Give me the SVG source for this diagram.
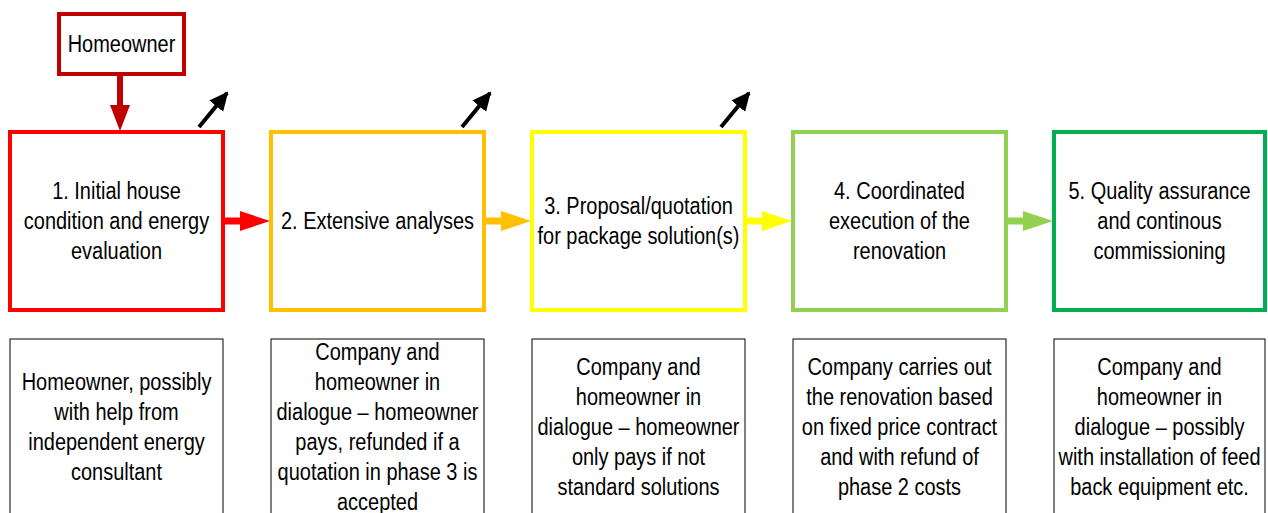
<svg xmlns="http://www.w3.org/2000/svg" width="1268" height="513" viewBox="0 0 1268 513">
<style>
text{font-family:"Liberation Sans",Arial,sans-serif;font-size:23.5px;fill:#000;text-anchor:middle}
.box{fill:#fff;stroke-width:4}
.desc{fill:#fff;stroke:#000;stroke-width:1}
</style>
<defs>
<marker id="blk" markerUnits="userSpaceOnUse" markerWidth="20" markerHeight="20" refX="17" refY="9" orient="auto" viewBox="0 0 20 18">
<path d="M0,0 L19,9 L0,18 Z" fill="#000"/>
</marker>
</defs>
<rect width="1268" height="513" fill="#fff"/>
<g id="homeowner">
<rect class="box" x="59" y="14" width="125" height="60" stroke="#C00000"/>
<g transform="translate(121.5,0) scale(0.85,1)"><text x="0" y="52">Homeowner</text></g>
</g>
<g id="step1">
<rect class="box" x="10" y="132" width="213" height="178" stroke="#FF0000"/>
<g transform="translate(116.5,0) scale(0.85,1)">
<text x="0" y="199">1. Initial house</text>
<text x="0" y="229">condition and energy</text>
<text x="0" y="259">evaluation</text>
</g>
</g>
<g id="step2">
<rect class="box" x="271" y="132" width="213" height="178" stroke="#FFC000"/>
<g transform="translate(377.5,0) scale(0.85,1)">
<text x="0" y="229">2. Extensive analyses</text>
</g>
</g>
<g id="step3">
<rect class="box" x="532" y="132" width="213" height="178" stroke="#FFFF00"/>
<g transform="translate(638.5,0) scale(0.85,1)">
<text x="0" y="214">3. Proposal/quotation</text>
<text x="0" y="244">for package solution(s)</text>
</g>
</g>
<g id="step4">
<rect class="box" x="793" y="132" width="213" height="178" stroke="#92D050"/>
<g transform="translate(899.5,0) scale(0.85,1)">
<text x="0" y="199">4. Coordinated</text>
<text x="0" y="229">execution of the</text>
<text x="0" y="259">renovation</text>
</g>
</g>
<g id="step5">
<rect class="box" x="1054" y="132" width="211" height="178" stroke="#00B050"/>
<g transform="translate(1159.5,0) scale(0.85,1)">
<text x="0" y="199">5. Quality assurance</text>
<text x="0" y="229">and continous</text>
<text x="0" y="259">commissioning</text>
</g>
</g>
<g id="desc1">
<rect class="desc" x="10" y="339" width="213" height="200"/>
<g transform="translate(116.5,0) scale(0.85,1)">
<text x="0" y="390">Homeowner, possibly</text>
<text x="0" y="420">with help from</text>
<text x="0" y="450">independent energy</text>
<text x="0" y="480">consultant</text>
</g>
</g>
<g id="desc2">
<rect class="desc" x="271" y="339" width="213" height="200"/>
<g transform="translate(377.5,0) scale(0.85,1)">
<text x="0" y="360">Company and</text>
<text x="0" y="390">homeowner in</text>
<text x="0" y="420">dialogue – homeowner</text>
<text x="0" y="450">pays, refunded if a</text>
<text x="0" y="480">quotation in phase 3 is</text>
<text x="0" y="510">accepted</text>
</g>
</g>
<g id="desc3">
<rect class="desc" x="532" y="339" width="213" height="200"/>
<g transform="translate(638.5,0) scale(0.85,1)">
<text x="0" y="375">Company and</text>
<text x="0" y="405">homeowner in</text>
<text x="0" y="435">dialogue – homeowner</text>
<text x="0" y="465">only pays if not</text>
<text x="0" y="495">standard solutions</text>
</g>
</g>
<g id="desc4">
<rect class="desc" x="793" y="339" width="213" height="200"/>
<g transform="translate(899.5,0) scale(0.85,1)">
<text x="0" y="375">Company carries out</text>
<text x="0" y="405">the renovation based</text>
<text x="0" y="435">on fixed price contract</text>
<text x="0" y="465">and with refund of</text>
<text x="0" y="495">phase 2 costs</text>
</g>
</g>
<g id="desc5">
<rect class="desc" x="1054" y="339" width="211" height="200"/>
<g transform="translate(1159.5,0) scale(0.85,1)">
<text x="0" y="375">Company and</text>
<text x="0" y="405">homeowner in</text>
<text x="0" y="435">dialogue – possibly</text>
<text x="0" y="465">with installation of feed</text>
<text x="0" y="495">back equipment etc.</text>
</g>
</g>
<g id="connectors">
<line x1="120" y1="76" x2="120" y2="106" stroke="#C00000" stroke-width="6"/>
<polygon points="110,105 130,105 120,131" fill="#C00000"/>
<line x1="225" y1="221" x2="242" y2="221" stroke="#FF0000" stroke-width="7"/>
<polygon points="240,211 240,231 270,221" fill="#FF0000"/>
<line x1="486" y1="221" x2="503" y2="221" stroke="#FFC000" stroke-width="7"/>
<polygon points="501,211 501,231 531,221" fill="#FFC000"/>
<line x1="747" y1="221" x2="764" y2="221" stroke="#FFFF00" stroke-width="7"/>
<polygon points="762,211 762,231 792,221" fill="#FFFF00"/>
<line x1="1008" y1="221" x2="1025" y2="221" stroke="#92D050" stroke-width="7"/>
<polygon points="1023,211 1023,231 1053,221" fill="#92D050"/>
<line x1="199" y1="127" x2="227" y2="93" stroke="#000" stroke-width="4" marker-end="url(#blk)"/>
<line x1="462" y1="127" x2="490" y2="93" stroke="#000" stroke-width="4" marker-end="url(#blk)"/>
<line x1="721" y1="127" x2="749" y2="93" stroke="#000" stroke-width="4" marker-end="url(#blk)"/>
</g>
</svg>
